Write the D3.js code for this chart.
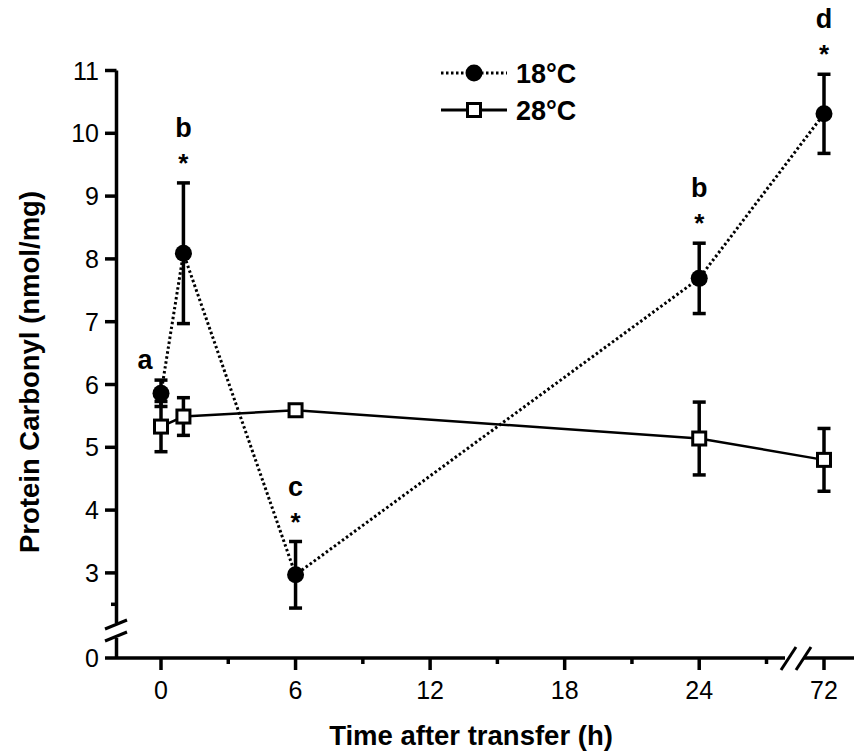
<!DOCTYPE html>
<html><head><meta charset="utf-8">
<script src="https://cdn.jsdelivr.net/npm/d3@7"></script>
<style>body{margin:0;background:#fff}svg{display:block}text{font-family:"Liberation Sans",Arial,sans-serif}</style>
</head><body>
<svg id="c" width="854" height="754"></svg>
<script>
const times = [0, 1, 6, 24, 72];
const mean18 = [5.86, 8.09, 2.97, 7.69, 10.31];
const err18 = [0.21, 1.12, 0.53, 0.56, 0.63];
const mean28 = [5.33, 5.49, 5.59, 5.14, 4.80];
const err28 = [0.40, 0.30, 0.06, 0.58, 0.50];
const letters18 = ["a", "b", "c", "b", "d"];
const stars18 = ["", "*", "*", "*", "*"];
const xTicks = [0, 6, 12, 18, 24, 72];
const xMinor = [3, 9, 15, 21, 27];
const yTicks = [0, 3, 4, 5, 6, 7, 8, 9, 10, 11];
const yMinor = [2.5];
const seriesNames = ["18°C", "28°C"];

const svg = d3.select("#c");
const x = d3.scaleLinear().domain([-2.5, 0, 27, 72]).range([105, 161, 766.5, 824]);
const y = d3.scaleLinear().domain([0, 2, 11]).range([658, 635.7, 70.5]);
const ink = "#000";

// axes
const ax = svg.append("g").attr("stroke", ink).attr("stroke-width", 3.5).attr("fill", "none");
ax.append("line").attr("x1", x(-2.5)).attr("x2", 785).attr("y1", y(0)).attr("y2", y(0));
ax.append("line").attr("x1", 804).attr("x2", 854).attr("y1", y(0)).attr("y2", y(0));
ax.append("line").attr("x1", 116.5).attr("x2", 116.5).attr("y1", y(11)).attr("y2", 623);
ax.append("line").attr("x1", 116.5).attr("x2", 116.5).attr("y1", 638).attr("y2", y(0));
// break slashes
ax.append("line").attr("x1", 105).attr("y1", 629).attr("x2", 127).attr("y2", 620).attr("stroke-width", 3);
ax.append("line").attr("x1", 105).attr("y1", 641).attr("x2", 127).attr("y2", 632).attr("stroke-width", 3);
ax.append("line").attr("x1", 781).attr("y1", 670).attr("x2", 796).attr("y2", 647).attr("stroke-width", 3);
ax.append("line").attr("x1", 796).attr("y1", 670).attr("x2", 811).attr("y2", 647).attr("stroke-width", 3);

// ticks
yTicks.filter(d => d > 0).forEach(d => {
  ax.append("line").attr("x1", 105).attr("x2", 116.5).attr("y1", y(d)).attr("y2", y(d));
});
yMinor.forEach(d => {
  ax.append("line").attr("x1", 111).attr("x2", 116.5).attr("y1", y(d)).attr("y2", y(d));
});
xTicks.forEach(d => {
  ax.append("line").attr("x1", x(d)).attr("x2", x(d)).attr("y1", y(0)).attr("y2", y(0) + 12);
});
xMinor.forEach(d => {
  ax.append("line").attr("x1", x(d)).attr("x2", x(d)).attr("y1", y(0)).attr("y2", y(0) + 6);
});

svg.append("g").selectAll("text").data(yTicks).join("text")
  .attr("x", 99).attr("y", d => y(d)).attr("dy", "0.36em")
  .attr("text-anchor", "end").attr("font-size", 25).text(d => d);
svg.append("g").selectAll("text").data(xTicks).join("text")
  .attr("x", d => x(d)).attr("y", 699)
  .attr("text-anchor", "middle").attr("font-size", 25).text(d => d);

svg.append("text").attr("transform", "translate(39,372) rotate(-90)")
  .attr("text-anchor", "middle").attr("font-size", 27.5).attr("font-weight", "bold")
  .text("Protein Carbonyl (nmol/mg)");
svg.append("text").attr("x", 471).attr("y", 745)
  .attr("text-anchor", "middle").attr("font-size", 27.5).attr("font-weight", "bold")
  .text("Time after transfer (h)");

const d18 = times.map((t, i) => ({t, m: mean18[i], e: err18[i], L: letters18[i], s: stars18[i]}));
const d28 = times.map((t, i) => ({t, m: mean28[i], e: err28[i]}));
const line = d3.line().x(d => x(d.t)).y(d => y(d.m));

function errBars(g, data) {
  data.forEach(d => {
    g.append("line").attr("x1", x(d.t)).attr("x2", x(d.t)).attr("y1", y(d.m - d.e)).attr("y2", y(d.m + d.e));
    [d.m - d.e, d.m + d.e].forEach(v => g.append("line").attr("x1", x(d.t) - 6.5).attr("x2", x(d.t) + 6.5).attr("y1", y(v)).attr("y2", y(v)));
  });
}

// 18°C
const g18 = svg.append("g");
g18.append("path").datum(d18).attr("d", line).attr("fill", "none").attr("stroke", ink)
  .attr("stroke-width", 3).attr("stroke-dasharray", "2.5,2.5");
errBars(g18.append("g").attr("stroke", ink).attr("stroke-width", 3.5), d18);
g18.append("g").selectAll("circle").data(d18).join("circle")
  .attr("cx", d => x(d.t)).attr("cy", d => y(d.m)).attr("r", 8.5).attr("fill", ink);

// 28°C
const g28 = svg.append("g");
g28.append("path").datum(d28).attr("d", line).attr("fill", "none").attr("stroke", ink).attr("stroke-width", 2.5);
errBars(g28.append("g").attr("stroke", ink).attr("stroke-width", 3.5), d28);
g28.append("g").selectAll("rect").data(d28).join("rect")
  .attr("x", d => x(d.t) - 6.5).attr("y", d => y(d.m) - 6.5).attr("width", 13).attr("height", 13)
  .attr("fill", "#fff").attr("stroke", ink).attr("stroke-width", 3);

// annotations
const ann = svg.append("g").attr("text-anchor", "middle");
d18.forEach((d, i) => {
  if (d.s) {
    const top = y(d.m + d.e);
    ann.append("text").attr("x", x(d.t)).attr("y", top - 11).attr("font-size", 26).attr("font-weight", "bold").text(d.s);
    ann.append("text").attr("x", x(d.t)).attr("y", top - 46).attr("font-size", 27).attr("font-weight", "bold").text(d.L);
  } else {
    ann.append("text").attr("x", x(d.t) - 16).attr("y", 369).attr("font-size", 27).attr("font-weight", "bold").text(d.L);
  }
});

// legend
const lg = svg.append("g");
lg.append("line").attr("x1", 441).attr("x2", 507).attr("y1", 73).attr("y2", 73)
  .attr("stroke", ink).attr("stroke-width", 3).attr("stroke-dasharray", "2.5,2.5");
lg.append("circle").attr("cx", 474).attr("cy", 73).attr("r", 8.5).attr("fill", ink);
lg.append("line").attr("x1", 441).attr("x2", 507).attr("y1", 110).attr("y2", 110)
  .attr("stroke", ink).attr("stroke-width", 3);
lg.append("rect").attr("x", 467.5).attr("y", 103.5).attr("width", 13).attr("height", 13)
  .attr("fill", "#fff").attr("stroke", ink).attr("stroke-width", 3);
lg.selectAll("text").data(seriesNames).join("text")
  .attr("x", 516).attr("y", (d, i) => 73 + i * 37).attr("dy", "0.36em")
  .attr("font-size", 27).attr("font-weight", "bold").text(d => d);
</script>
</body></html>
